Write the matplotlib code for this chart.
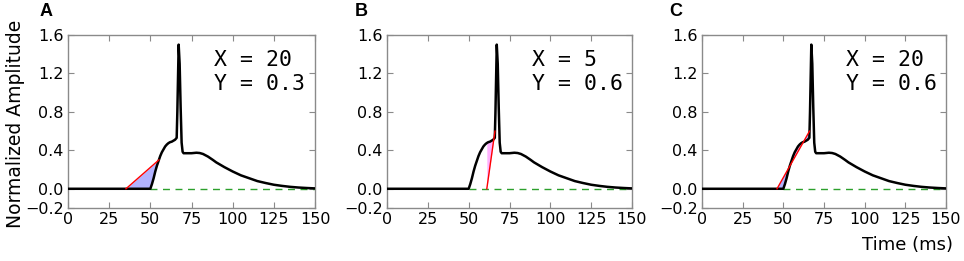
import numpy as np
import matplotlib
matplotlib.use("Agg")
import matplotlib.pyplot as plt

# Trace (time in ms, normalized amplitude)
time_ms = [0, 50, 51, 52, 53, 54, 55, 56, 57, 58, 59, 60, 61, 62, 63, 64, 65, 66,
           66.4, 67.2, 67.8, 68.4, 69.0, 69.6, 70.2, 72, 75, 78, 80, 82, 85, 88, 90,
           95, 100, 105, 110, 115, 120, 125, 130, 135, 140, 145, 150]
amplitude = [0, 0, 0.05, 0.11, 0.18, 0.24, 0.29, 0.34, 0.38, 0.41, 0.44, 0.46, 0.475,
             0.485, 0.49, 0.50, 0.51, 0.53, 0.80, 1.50, 1.30, 0.85, 0.48, 0.385, 0.37,
             0.37, 0.37, 0.375, 0.372, 0.362, 0.335, 0.30, 0.275, 0.225, 0.18, 0.14,
             0.11, 0.08, 0.06, 0.042, 0.03, 0.02, 0.013, 0.008, 0.004]

panel_labels = ["A", "B", "C"]
param_X = [20, 5, 20]
param_Y = [0.3, 0.6, 0.6]
baseline_span = [50, 150]

xticks = [0, 25, 50, 75, 100, 125, 150]
yticks = [-0.2, 0.0, 0.4, 0.8, 1.2, 1.6]

t = np.array(time_ms, dtype=float)
v = np.array(amplitude, dtype=float)

fig = plt.figure(figsize=(9.64, 2.61), dpi=100)
W, H = 964, 261
lefts = [68, 387, 702]
widths = [247, 245, 244]
top_px, bot_px = 35, 208

spine_col = "#8a8a8a"

for i in range(3):
    ax = fig.add_axes([lefts[i] / W, 1 - bot_px / H, widths[i] / W, (bot_px - top_px) / H])
    X, Y = param_X[i], param_Y[i]
    # crossing time of threshold Y
    k = int(np.argmax(v >= Y))
    tY = t[k - 1] + (Y - v[k - 1]) * (t[k] - t[k - 1]) / (v[k] - v[k - 1])
    t0 = tY - X
    tt = np.linspace(t0, tY, 400)
    curve = np.interp(tt, t, v)
    line = np.interp(tt, [t0, tY], [0, Y])
    ax.fill_between(tt, line, curve, where=line >= curve, interpolate=True,
                    color="blue", alpha=0.3, linewidth=0)
    ax.fill_between(tt, line, curve, where=curve >= line, interpolate=True,
                    color="magenta", alpha=0.3, linewidth=0)
    ax.plot(baseline_span, [0, 0], color="#2ca02c", linestyle="--", lw=1.0, dashes=(5, 4))
    ax.plot(t, v, color="black", lw=1.8, zorder=3)
    ax.plot([t0, tY], [0, Y], color="red", lw=1.0, zorder=4)

    ax.set_xlim(0, 150)
    ax.set_ylim(-0.2, 1.6)
    ax.set_xticks(xticks)
    ax.set_yticks(yticks)
    ax.set_yticklabels(["\u22120.2", "0.0", "0.4", "0.8", "1.2", "1.6"])
    ax.tick_params(direction="in", length=4, width=0.8, top=True, right=True,
                   labelsize=11.5, color=spine_col, pad=3)
    for s in ax.spines.values():
        s.set_color(spine_col)
        s.set_linewidth(1.0)

    ax.text(88.5, 1.278, "X = %d" % X, family="DejaVu Sans Mono", fontsize=15.5,
            ha="left", va="baseline")
    ax.text(88.5, 1.028, "Y = %s" % Y, family="DejaVu Sans Mono", fontsize=15.5,
            ha="left", va="baseline")

label_x = [40, 355, 669]
for i in range(3):
    fig.text(label_x[i] / W, 1 - 16 / H, panel_labels[i], family="Liberation Sans",
             fontweight="bold", fontsize=13, ha="left", va="baseline")

fig.text(16 / W, 0.5 * (1 - top_px / H + 1 - bot_px / H) - 0.01, "Normalized Amplitude",
         rotation=90, fontsize=13.5, ha="center", va="center")
fig.text(953 / W, 1 - 245 / H, "Time (ms)", fontsize=13, ha="right", va="center")

fig.savefig("out.png", dpi=100)
